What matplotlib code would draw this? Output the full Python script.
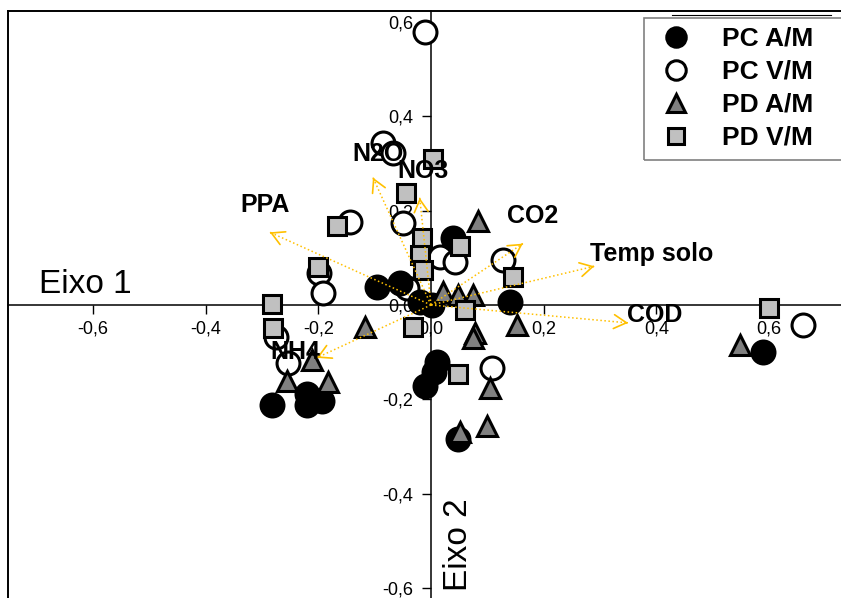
import matplotlib.pyplot as plt
from matplotlib.lines import Line2D
from matplotlib.patches import Rectangle

plt.rcParams['font.family'] = ['Liberation Sans', 'DejaVu Sans']

# sample scores on the two ordination axes
pc_am_x = [-0.096, -0.055, -0.020, 0.002, 0.039, 0.140, 0.011, 0.005, -0.011, 0.048, 0.590, -0.282, -0.220, -0.220, -0.194]
pc_am_y = [0.038, 0.046, 0.006, 0.000, 0.141, 0.006, -0.120, -0.143, -0.171, -0.284, -0.099, -0.211, -0.189, -0.211, -0.204]

pc_vm_x = [-0.011, -0.085, -0.067, -0.144, -0.050, -0.199, -0.192, -0.275, -0.254, -0.043, 0.016, 0.043, 0.128, 0.108, 0.661]
pc_vm_y = [0.579, 0.343, 0.322, 0.175, 0.173, 0.067, 0.025, -0.067, -0.122, 0.036, 0.101, 0.091, 0.095, -0.133, -0.042]

pd_am_x = [0.083, 0.021, 0.048, 0.075, 0.078, 0.075, 0.153, -0.117, -0.211, -0.256, -0.183, 0.105, 0.052, 0.099, 0.549]
pd_am_y = [0.179, 0.027, 0.021, 0.021, -0.059, -0.069, -0.042, -0.046, -0.116, -0.162, -0.164, -0.175, -0.269, -0.257, -0.084]

pd_vm_x = [0.004, -0.044, -0.167, -0.016, -0.020, -0.014, 0.052, 0.146, -0.201, -0.282, -0.281, 0.060, -0.032, 0.048, 0.600]
pd_vm_y = [0.309, 0.238, 0.168, 0.141, 0.105, 0.074, 0.126, 0.059, 0.080, 0.002, -0.048, -0.011, -0.046, -0.147, -0.006]

group_names = ['PC A/M', 'PC V/M', 'PD A/M', 'PD V/M']

# environmental vectors
var_names = ['PPA', 'N2O', 'NO3', 'CO2', 'Temp solo', 'COD', 'NH4']
var_x = [-0.286, -0.103, -0.020, 0.163, 0.290, 0.350, -0.203]
var_y = [0.154, 0.270, 0.227, 0.130, 0.082, -0.038, -0.112]

tick_vals = [-0.6, -0.4, -0.2, 0.0, 0.2, 0.4, 0.6]
tick_text = ['-0,6', '-0,4', '-0,2', '0,0', '0,2', '0,4', '0,6']

W, H = 841, 598
fig = plt.figure(figsize=(W / 100, H / 100), dpi=100)
ax = fig.add_axes([8 / W, 0, 1 - 8 / W, 1 - 11 / H])
ax.set_xlim(-0.751, 0.728)
ax.set_ylim(-0.621, 0.623)

# axes cross at the origin, box only on left and top
ax.spines['left'].set_position('zero')
ax.spines['bottom'].set_position('zero')
ax.spines['right'].set_visible(False)
ax.spines['top'].set_linewidth(1.4)
ax.spines['left'].set_linewidth(1.1)
ax.spines['bottom'].set_linewidth(1.1)
ax.plot([0, 0], [0, 1], transform=ax.transAxes, color='black', lw=1.4, clip_on=False)

ax.set_xticks(tick_vals, tick_text)
ax.set_yticks(tick_vals, tick_text)
ax.tick_params(direction='out', length=6.5, width=1, labelsize=13)
ax.tick_params(axis='x', pad=5)
ax.tick_params(axis='y', pad=6)

mk = dict(ls='none', mec='black', mew=2.2)
ax.plot(pc_vm_x, pc_vm_y, marker='o', ms=16.5, mfc='white', zorder=3, **mk)
ax.plot(pc_am_x, pc_am_y, marker='o', ms=16.5, mfc='black', zorder=3, **mk)
ax.plot(pd_am_x, pd_am_y, marker='^', ms=14, mfc='#808080', zorder=3, **mk)
ax.plot(pd_vm_x, pd_vm_y, marker='s', ms=13, mfc='#c0c0c0', zorder=3, **mk)

arrow_color = '#ffc000'
label_pos = [(-0.339, 0.198), (-0.140, 0.305), (-0.060, 0.269), (0.135, 0.173),
             (0.282, 0.093), (0.348, -0.036), (-0.286, -0.114)]
for name, ex, ey, (lx, ly) in zip(var_names, var_x, var_y, label_pos):
    ax.plot([0, ex], [0, ey], ls=':', color=arrow_color, lw=1.1, zorder=5)
    ax.annotate('', xy=(ex, ey), xytext=(ex * 0.995, ey * 0.995),
                arrowprops=dict(arrowstyle='->, head_length=0.9, head_width=0.5',
                                color=arrow_color, lw=1.2, shrinkA=0, shrinkB=0),
                zorder=5)
    ax.text(lx, ly, name, fontsize=18, fontweight='bold', ha='left', va='baseline', zorder=6)

ax.text(-0.696, 0.025, 'Eixo 1', fontsize=24, ha='left', va='baseline')
ax.text(0.021, -0.606, 'Eixo 2', fontsize=24, rotation=90, ha='left', va='bottom')

handles = [
    Line2D([], [], marker='o', ms=14, mfc='black', **mk),
    Line2D([], [], marker='o', ms=14, mfc='white', **mk),
    Line2D([], [], marker='^', ms=13, mfc='#808080', **mk),
    Line2D([], [], marker='s', ms=12, mfc='#c0c0c0', **mk),
]
ax.legend(handles, group_names, loc='upper left',
          bbox_to_anchor=(662.8 / W, 1 - 27 / H), bbox_transform=fig.transFigure,
          frameon=False, prop=dict(weight='bold', size=19),
          handlelength=1.0, handletextpad=1.24, labelspacing=0.34,
          borderpad=0, borderaxespad=0)
fig.add_artist(Rectangle((644 / W, 1 - 160 / H), 230 / W, 142 / H,
                         transform=fig.transFigure, fill=False, ec='#808080', lw=1.2))
fig.add_artist(Line2D([672 / W, 831 / W], [1 - 15 / H, 1 - 15 / H],
                      transform=fig.transFigure, color='black', lw=0.8))

fig.savefig('out.png', dpi=100)
